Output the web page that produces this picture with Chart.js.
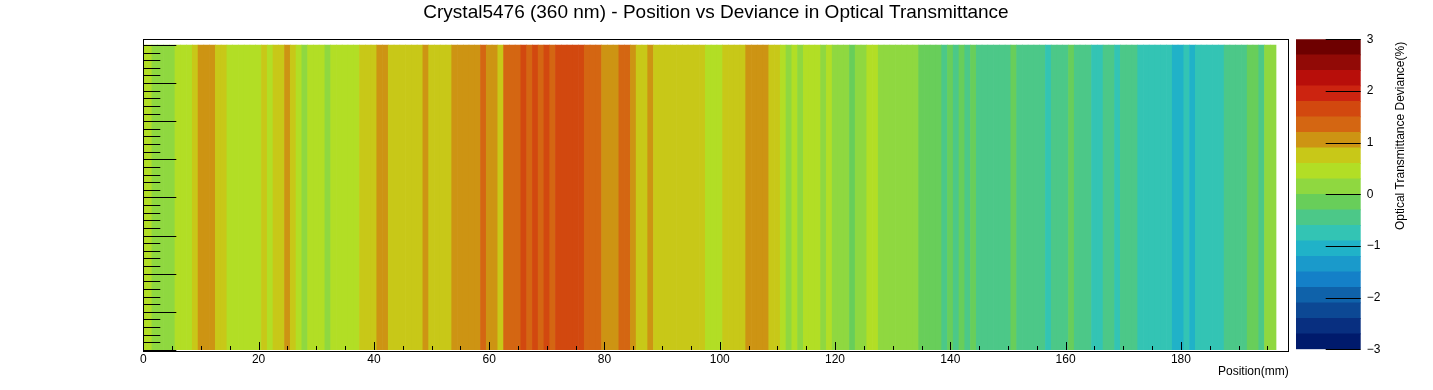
<!DOCTYPE html>
<html>
<head>
<meta charset="utf-8">
<title>Crystal5476 (360 nm) - Position vs Deviance in Optical Transmittance</title>
<script src="https://cdn.jsdelivr.net/npm/chart.js@4.4.1/dist/chart.umd.min.js"></script>
<style>
  body { margin: 0; background: #fff; overflow: hidden; }
  #wrap { position: relative; width: 1433px; height: 390px; }
  #wrap canvas { position: absolute; left: 0; top: 0; }
</style>
</head>
<body>
<div id="wrap">
  <canvas id="map" width="1433" height="390"></canvas>
  <canvas id="scale" width="1433" height="390"></canvas>
</div>
<script>
// deviance (%) per 1 mm position bin
const deviance = [
  0.45, 0.45, 0.15, 0.15, 0.15, 0.15, 0.45, 0.45, 0.45, 0.75,
  1.05, 1.05, 1.05, 0.75, 0.75, 0.45, 0.45, 0.45, 0.45, 0.45,
  0.45, 0.75, 0.45, 0.75, 0.75, 1.05, 0.75, 0.45, 0.15, 0.45,
  0.45, 0.45, 0.15, 0.45, 0.45, 0.45, 0.45, 0.45, 0.75, 0.75,
  0.75, 1.05, 1.05, 0.75, 0.75, 0.75, 0.75, 0.75, 0.75, 1.05,
  0.75, 0.75, 0.75, 0.75, 1.05, 1.05, 1.05, 1.05, 1.05, 1.35,
  1.05, 1.05, 0.75, 1.35, 1.35, 1.35, 1.65, 1.35, 1.65, 1.35,
  1.65, 1.35, 1.65, 1.65, 1.65, 1.65, 1.65, 1.35, 1.35, 1.35,
  1.05, 1.05, 1.05, 1.35, 1.35, 1.05, 0.75, 0.75, 1.05, 0.75,
  0.75, 0.75, 0.75, 0.75, 0.75, 0.75, 0.75, 0.75, 0.45, 0.45,
  0.45, 0.75, 0.75, 0.75, 0.75, 1.05, 1.05, 1.05, 1.05, 0.75,
  0.75, 0.45, 0.15, 0.45, 0.15, 0.45, 0.45, 0.45, 0.15, 0.45,
  0.15, 0.15, 0.15, -0.15, 0.15, 0.15, 0.45, 0.45, 0.15, 0.15,
  0.15, 0.15, 0.15, 0.15, 0.15, -0.15, -0.15, -0.15, -0.15, -0.45,
  -0.15, -0.45, -0.15, -0.45, -0.15, -0.45, -0.45, -0.45, -0.45, -0.45,
  -0.45, -0.15, -0.45, -0.45, -0.45, -0.45, -0.45, -0.75, -0.45, -0.45,
  -0.45, -0.15, -0.45, -0.45, -0.45, -0.75, -0.75, -0.45, -0.45, -0.75,
  -0.45, -0.45, -0.45, -0.75, -0.75, -0.75, -0.75, -0.75, -0.75, -1.05,
  -1.05, -0.75, -1.05, -0.75, -0.75, -0.75, -0.75, -0.75, -0.45, -0.45,
  -0.45, -0.45, -0.15, -0.15, -0.45, 0.15, 0.15
];
const positions = deviance.map((_, i) => i); // bin centres in mm

// colour scale: 20 levels from -3 to 3
const levelEdges = [
  -3, -2.7, -2.4, -2.1, -1.8, -1.5, -1.2, -0.9, -0.6, -0.3, 0,
  0.3, 0.6, 0.9, 1.2, 1.5, 1.8, 2.1, 2.4, 2.7, 3
];
const levelColors = [
  "#001a6c", "#082f80", "#0c4894", "#0f62aa", "#1480c8",
  "#1a9acb", "#20b2c8", "#33c4b4", "#4cc888", "#68ce5a",
  "#8fd840", "#b2de25", "#c8c818", "#cd9413", "#d46612",
  "#d2480f", "#cc2410", "#b80e0a", "#920a06", "#6e0000"
];
const xTicks = [0, 20, 40, 60, 80, 100, 120, 140, 160, 180];

const FONT = "'Liberation Sans', Arial, Helvetica, sans-serif";

function colorFor(v) {
  for (let i = 0; i < levelColors.length; i++) {
    if (v < levelEdges[i + 1]) return levelColors[i];
  }
  return levelColors[levelColors.length - 1];
}

// ROOT style ticks drawn inside the frame, plus the frame itself
const mapTicks = {
  id: "mapTicks",
  afterDatasetsDraw(chart) {
    const { ctx, chartArea: a, scales: { x, y } } = chart;
    ctx.save();
    ctx.strokeStyle = "#000";
    ctx.lineWidth = 1;
    ctx.beginPath();
    for (let i = 0; i <= 40; i++) {
      const py = Math.round(y.getPixelForValue(i / 5)) + 0.5;
      ctx.moveTo(a.left, py);
      ctx.lineTo(a.left + (i % 5 === 0 ? 33 : 17), py);
    }
    for (let v = 0; v <= 195; v += 5) {
      const px = Math.round(x.getPixelForValue(v)) + 0.5;
      ctx.moveTo(px, a.bottom);
      ctx.lineTo(px, a.bottom - (xTicks.includes(v) ? 8 : 4));
    }
    ctx.stroke();
    ctx.strokeRect(Math.round(a.left) + 0.5, Math.round(a.top) + 0.5,
      Math.round(a.right - a.left), Math.round(a.bottom - a.top));
    ctx.restore();
  }
};

new Chart(document.getElementById("map"), {
  type: "bar",
  data: {
    datasets: [{
      data: positions.map(p => ({ x: p, y: [0, 8] })),
      backgroundColor: deviance.map(colorFor),
      borderWidth: 0,
      barPercentage: 1,
      categoryPercentage: 1
    }]
  },
  options: {
    responsive: false,
    animation: false,
    layout: { padding: { left: 143.3, right: 144.3, top: 0, bottom: 0 } },
    plugins: {
      legend: { display: false },
      tooltip: { enabled: false },
      title: {
        display: true,
        text: "Crystal5476 (360 nm) - Position vs Deviance in Optical Transmittance",
        color: "#000",
        font: { family: FONT, size: 19, weight: "normal", lineHeight: 1.2 },
        padding: { top: 1, bottom: 14.7 }
      }
    },
    scales: {
      x: {
        type: "linear",
        min: 0,
        max: 198.7,
        offset: false,
        grid: { display: false, drawTicks: false },
        border: { display: false },
        ticks: {
          stepSize: 5,
          includeBounds: false,
          autoSkip: false,
          maxRotation: 0,
          padding: 2,
          color: "#000",
          font: { family: FONT, size: 12 },
          callback: v => xTicks.includes(v) ? String(v) : ""
        },
        title: {
          display: true,
          text: "Position(mm)",
          align: "end",
          color: "#000",
          font: { family: FONT, size: 12 },
          padding: { top: 0, bottom: 11 }
        },
        afterFit: s => { s.height = 40; }
      },
      y: { display: false, min: 0, max: 8.17 }
    }
  },
  plugins: [mapTicks]
});

// colour bar on the right
const scaleTicks = {
  id: "scaleTicks",
  afterDraw(chart) {
    const { ctx, chartArea: a, scales: { y } } = chart;
    ctx.save();
    ctx.strokeStyle = "#000";
    ctx.lineWidth = 1;
    ctx.beginPath();
    y.ticks.forEach(t => {
      const py = Math.round(y.getPixelForValue(t.value)) + 0.5;
      ctx.moveTo(a.right - 35, py);
      ctx.lineTo(a.right, py);
    });
    ctx.stroke();
    // axis title reads upwards, ending at the top of the bar
    ctx.translate(1401, a.top + 2.5);
    ctx.rotate(-Math.PI / 2);
    ctx.font = "12px " + FONT;
    ctx.fillStyle = "#000";
    ctx.textAlign = "right";
    ctx.textBaseline = "middle";
    ctx.fillText("Optical Transmittance Deviance(%)", 0, 0);
    ctx.restore();
  }
};

new Chart(document.getElementById("scale"), {
  type: "bar",
  data: {
    labels: [""],
    datasets: levelColors.map((c, i) => ({
      data: [[levelEdges[i], levelEdges[i + 1]]],
      backgroundColor: c,
      borderWidth: 0,
      grouped: false,
      barPercentage: 1,
      categoryPercentage: 1
    }))
  },
  options: {
    responsive: false,
    animation: false,
    layout: { padding: { left: 1296, right: 0, top: 39.3, bottom: 40.7 } },
    plugins: { legend: { display: false }, tooltip: { enabled: false } },
    scales: {
      x: { display: false },
      y: {
        position: "right",
        min: -3,
        max: 3,
        grid: { display: false, drawTicks: false },
        border: { display: false },
        ticks: {
          stepSize: 1,
          padding: 6,
          color: "#000",
          font: { family: FONT, size: 12 },
          callback: v => v < 0 ? "\u2212" + Math.abs(v) : String(v)
        },
        afterFit: s => { s.width = 72.3; }
      }
    }
  },
  plugins: [scaleTicks]
});
</script>
</body>
</html>
